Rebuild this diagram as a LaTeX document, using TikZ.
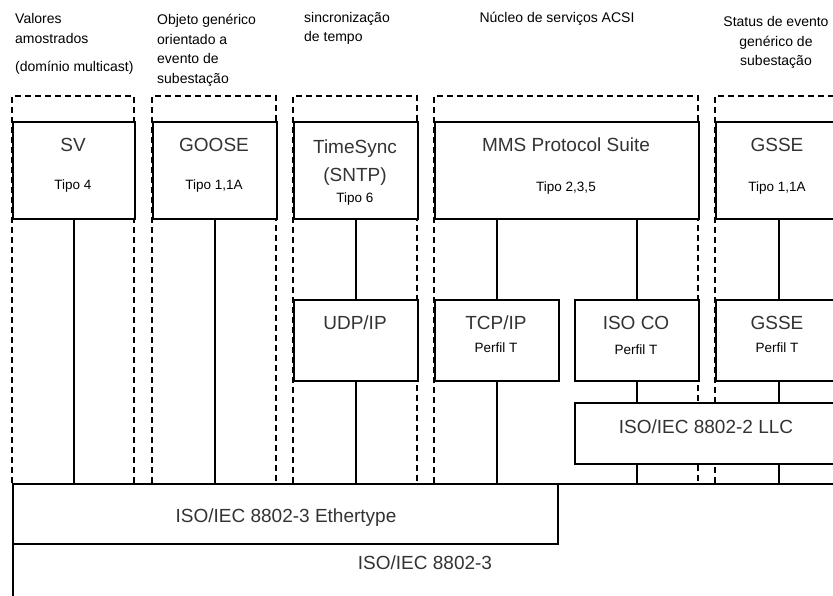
\documentclass[tikz,border=0pt]{standalone}
\usepackage{fontspec}
\setmainfont{Liberation Sans}
\usetikzlibrary{positioning}

\begin{document}
\begin{tikzpicture}[x=1pt,y=-1pt,
    box/.style={draw,line width=1.8pt,fill=white,inner sep=0pt,anchor=north west},
    grp/.style={draw,line width=1.8pt,dash pattern=on 6pt off 4pt},
    wire/.style={line width=1.8pt},
    big/.style={font=\fontsize{19}{24}\selectfont,text=black!80,inner sep=0pt,anchor=base},
    small/.style={font=\fontsize{13.5}{16}\selectfont,inner sep=0pt,anchor=base},
    lbl/.style={font=\fontsize{14}{19.5}\selectfont,inner sep=0pt,align=left,anchor=base west}]
    \useasboundingbox (0,0) rectangle (833,596);
    \clip (0,0) rectangle (833,596);
    % service groups (dashed)
    \foreach \l/\r in {12/134,152/276,293/417,434/698}
      \draw[grp] (\l,483) |- (\r,96) -- (\r,483);
    \draw[grp] (715,483) -- (715,96) -- (850,96);
    % headings (base = last line)
    \node[lbl] (hSV) at (15,72) {Valores\\amostrados\\[9pt](domínio multicast)};
    \node[lbl] (hGOOSE) at (157,83.5) {Objeto genérico\\orientado a\\evento de\\subestação};
    \node[lbl] (hTime) at (304,42) {sincronização\\de tempo};
    \node[lbl,anchor=base] (hACSI) at (557,23) {Núcleo de serviços ACSI};
    \node[lbl,align=center,anchor=base] (hGSSE) at (776,66) {Status de evento\\genérico de\\subestação};
    % link layer
    \node[box,minimum width=880,minimum height=150] (iso3) at (12,483) {};
    \node[box,minimum width=545,minimum height=60] (eth) at (12,483) {};
    \node[box,minimum width=300,minimum height=61] (llc) at (574,402) {};
    % application boxes
    \node[box,minimum width=122,minimum height=97] (sv) at (12,121) {};
    \node[box,minimum width=124,minimum height=97] (goose) at (152,121) {};
    \node[box,minimum width=124,minimum height=97] (tsync) at (293,121) {};
    \node[box,minimum width=264,minimum height=97] (mms) at (434,121) {};
    \node[box,minimum width=126,minimum height=97] (gsseU) at (715,121) {};
    % transport boxes
    \node[box,minimum width=124,minimum height=81] (udp) at (293,299) {};
    \node[box,minimum width=124,minimum height=81] (tcp) at (434,299) {};
    \node[box,minimum width=124,minimum height=81] (isoco) at (574,299) {};
    \node[box,minimum width=126,minimum height=81] (gsseL) at (715,299) {};
    % wires
    \draw[wire] (sv.south) -- (sv.south |- eth.north);
    \draw[wire] (goose.south) -- (goose.south |- eth.north);
    \draw[wire] (tsync.south) -- (udp.north);
    \draw[wire] (udp.south) -- (udp.south |- eth.north);
    \draw[wire] (tcp.north) -- (tcp.north |- mms.south);
    \draw[wire] (tcp.south) -- (tcp.south |- eth.north);
    \draw[wire] (isoco.north) -- (isoco.north |- mms.south);
    \draw[wire] (isoco.south) -- (isoco.south |- llc.north);
    \draw[wire] (isoco.south |- llc.south) -- (isoco.south |- iso3.north);
    \draw[wire] (gsseU.south) -- (gsseL.north);
    \draw[wire] (gsseL.south) -- (gsseL.south |- llc.north);
    \draw[wire] (gsseL.south |- llc.south) -- (gsseL.south |- iso3.north);
    % texts
    \node[big] (svT) at (73,152) {SV};
    \node[small] (svS) at (73,190) {Tipo 4};
    \node[big] (gooseT) at (214,152) {GOOSE};
    \node[small] (gooseS) at (214,190) {Tipo 1,1A};
    \node[big] (tsyncT) at (355,154) {TimeSync};
    \node[big] (tsyncT2) at (355,182) {(SNTP)};
    \node[small] (tsyncS) at (355,203) {Tipo 6};
    \node[big] (mmsT) at (566,152) {MMS Protocol Suite};
    \node[small] (mmsS) at (566,192) {Tipo 2,3,5};
    \node[big] (gsseUT) at (777,152) {GSSE};
    \node[small] (gsseUS) at (777,192) {Tipo 1,1A};
    \node[big] (udpT) at (355,329) {UDP/IP};
    \node[big] (tcpT) at (496,329) {TCP/IP};
    \node[small] (tcpS) at (496,352) {Perfil T};
    \node[big] (isocoT) at (636,329) {ISO CO};
    \node[small] (isocoS) at (636,354) {Perfil T};
    \node[big] (gsseLT) at (777,329) {GSSE};
    \node[small] (gsseLS) at (777,352) {Perfil T};
    \node[big] (llcT) at (706,433) {ISO/IEC 8802-2 LLC};
    \node[big] (ethT) at (286,522) {ISO/IEC 8802-3 Ethertype};
    \node[big] (iso3T) at (425,569) {ISO/IEC 8802-3};
\end{tikzpicture}
\end{document}
